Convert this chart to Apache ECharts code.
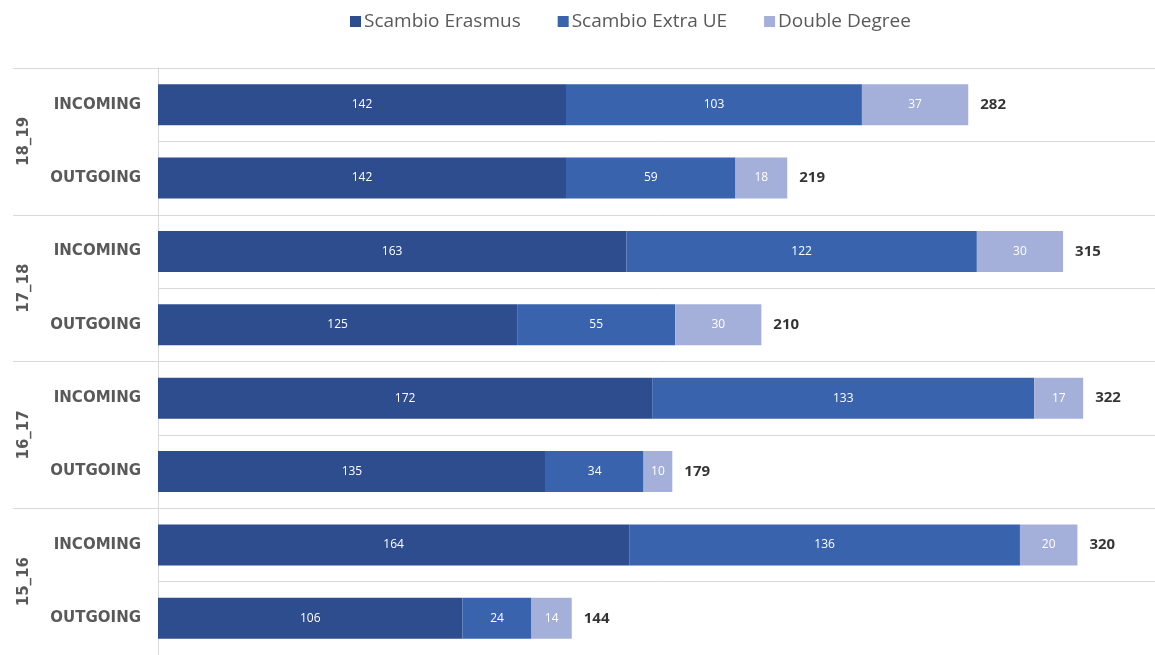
<!DOCTYPE html>
<html><head><meta charset="utf-8">
<script src="https://cdn.jsdelivr.net/npm/echarts@6/dist/echarts.min.js"></script>
<style>html,body{margin:0;padding:0;background:#fff}#c{width:1155px;height:655px}</style>
</head><body><div id="c"></div>
<script>
const rowLabels = ['INCOMING','OUTGOING','INCOMING','OUTGOING','INCOMING','OUTGOING','INCOMING','OUTGOING'];
const groups = ['18_19','17_18','16_17','15_16'];
const seriesNames = ['Scambio Erasmus','Scambio Extra UE','Double Degree'];
const erasmus = [142,142,163,125,172,135,164,106];
const extraUE = [103,59,122,55,133,34,136,24];
const doubleDegree = [37,18,30,30,17,10,20,14];
const totals = [282,219,315,210,322,179,320,144];

const colors = ['#2e4d8e','#3a63ad','#a4b0d9'];
const chart = echarts.init(document.getElementById('c'), null, {renderer:'canvas'});
const FONT = 'Open Sans';
function barSeries(name, data, color){
  return {
    name, type:'bar', stack:'s', data, barWidth:41, yAxisIndex:0,
    itemStyle:{color},
    label:{show:true, position:'inside', color:'#fff', fontSize:12, fontFamily:FONT},
    silent:true
  };
}
chart.setOption({
  animation:false,
  color: colors,
  legend:{
    data: seriesNames, top:7, left:345, icon:'rect', itemWidth:11, itemHeight:11, itemGap:37, itemStyle:{borderWidth:0},
    textStyle:{fontSize:19, color:'#595959', fontFamily:FONT, padding:[0,0,0,-2]}
  },
  grid:{left:158, right:0, top:68, bottom:-5, containLabel:false},
  xAxis:{type:'value', min:0, max:347, show:false},
  yAxis:[
    {type:'category', data:rowLabels, inverse:true,
     axisLine:{show:true, lineStyle:{color:'#d9d9d9'}},
     axisTick:{show:false},
     splitLine:{show:true, lineStyle:{color:'#d9d9d9'}},
     axisLabel:{margin:17, color:'#595959', fontWeight:'bold', fontSize:15, fontFamily:'DejaVu Sans'}},
    {type:'category', data:groups, inverse:true, position:'left',
     axisLine:{show:false},
     axisTick:{show:true, length:145, lineStyle:{color:'#d9d9d9'}},
     splitLine:{show:false},
     axisLabel:{rotate:90, margin:126, color:'#595959', fontWeight:'bold', fontSize:15, fontFamily:'DejaVu Sans'}}
  ],
  series:[
    barSeries(seriesNames[0], erasmus, colors[0]),
    barSeries(seriesNames[1], extraUE, colors[1]),
    barSeries(seriesNames[2], doubleDegree, colors[2]),
    {type:'scatter', yAxisIndex:0, symbolSize:0, silent:true,
     data: totals.map((t,i)=>[t,i]),
     label:{show:true, position:'right', distance:12, color:'#000', fontWeight:'bold', fontSize:15, fontFamily:FONT,
       formatter:p=>String(p.value[0])}}
  ]
});
</script></body></html>
